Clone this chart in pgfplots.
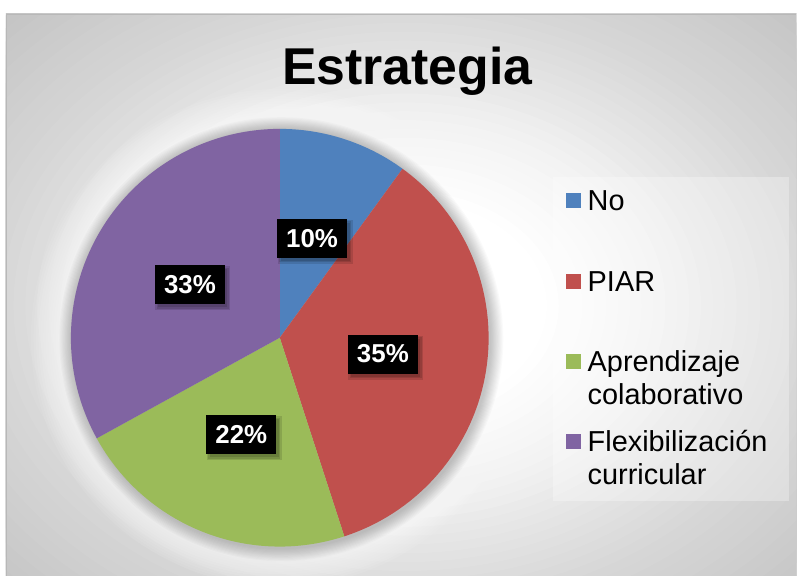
\documentclass[border=0pt]{standalone}
\usepackage{pgfplots}
\pgfplotsset{compat=1.18}
\usepackage{pgfplotstable}
\usepackage{fontspec}
\setmainfont{Liberation Sans}
\definecolor{cNo}{HTML}{4F81BD}
\definecolor{cPIAR}{HTML}{C0504D}
\definecolor{cApr}{HTML}{9BBB59}
\definecolor{cFlex}{HTML}{8064A2}
\definecolor{frame}{rgb}{0.72,0.72,0.72}
\pgfplotstableread{
label value
No 10
PIAR 35
Aprendizaje 22
Flexibilizacion 33
}\piedata
\begin{document}
\begin{tikzpicture}
\pgfplotstablegetelem{0}{value}\of\piedata \let\vA\pgfplotsretval
\pgfplotstablegetelem{1}{value}\of\piedata \let\vB\pgfplotsretval
\pgfplotstablegetelem{2}{value}\of\piedata \let\vC\pgfplotsretval
\pgfplotstablegetelem{3}{value}\of\piedata \let\vD\pgfplotsretval
\def\cx{280}\def\cy{238}\def\R{209}\def\lr{104.5}
\pgfmathsetmacro\aA{90}
\pgfmathsetmacro\aB{\aA-3.6*\vA}
\pgfmathsetmacro\aC{\aB-3.6*\vB}
\pgfmathsetmacro\aD{\aC-3.6*\vC}
\pgfmathsetmacro\aE{\aD-3.6*\vD}
\pgfmathsetmacro\xA{\cx+\lr*cos((\aA+\aB)/2)}\pgfmathsetmacro\yA{\cy+\lr*sin((\aA+\aB)/2)}
\pgfmathsetmacro\xB{\cx+\lr*cos((\aB+\aC)/2)}\pgfmathsetmacro\yB{\cy+\lr*sin((\aB+\aC)/2)}
\pgfmathsetmacro\xC{\cx+\lr*cos((\aC+\aD)/2)}\pgfmathsetmacro\yC{\cy+\lr*sin((\aC+\aD)/2)}
\pgfmathsetmacro\xD{\cx+\lr*cos((\aD+\aE)/2)}\pgfmathsetmacro\yD{\cy+\lr*sin((\aD+\aE)/2)}
% background: radial gradient built from nested solid ellipses
\fill[white] (0bp,0bp) rectangle (797bp,576bp);
\begin{scope}
\clip (6bp,0bp) rectangle (797bp,562bp);
\begin{scope}[shift={(405bp,270bp)}, xscale=7.91, yscale=5.9]
\foreach \i in {0,...,46}{
  \pgfmathsetmacro\rr{72-1.5*\i}
  \pgfmathsetmacro\pct{100*(0.05*max(min(\rr,32)-18,0)/14 + 0.10*max(min(\rr,50)-32,0)/18 + 0.08*max(\rr-50,0)/21)}
  \fill[black!\pct!white] (0,0) circle[radius=\rr bp];
}
\end{scope}
\end{scope}
\draw[frame, line width=1.3bp] (6.6bp,0bp) -- (6.6bp,561.4bp) -- (797bp,561.4bp);
\begin{axis}[
  at={(0bp,0bp)}, anchor=south west,
  x=1bp, y=1bp, xmin=0, xmax=797, ymin=0, ymax=576,
  hide axis, clip=false,
]
% white glow round the pie
\pgfplotsinvokeforeach{1,...,16}{
  \fill[white, opacity=0.08] (axis cs:\cx,\cy) circle[radius=209bp+#1*2.5bp];
}
% soft grey shadow right at the pie's rim
\pgfplotsinvokeforeach{1,...,12}{
  \fill[black, opacity=0.018] ([xshift=1.5bp,yshift=-1.5bp]axis cs:\cx,\cy) circle[radius=209bp+#1*1.1bp];
}
% title
\node[anchor=base, font=\bfseries\fontsize{52}{60}\selectfont] at (axis cs:407.5,491) {Estrategia};
% pie slices
\fill[cNo]   (axis cs:\cx,\cy) -- ++(\aA:\R bp) arc[start angle=\aA, end angle=\aB, radius=\R bp] -- cycle;
\fill[cPIAR] (axis cs:\cx,\cy) -- ++(\aB:\R bp) arc[start angle=\aB, end angle=\aC, radius=\R bp] -- cycle;
\fill[cApr]  (axis cs:\cx,\cy) -- ++(\aC:\R bp) arc[start angle=\aC, end angle=\aD, radius=\R bp] -- cycle;
\fill[cFlex] (axis cs:\cx,\cy) -- ++(\aD:\R bp) arc[start angle=\aD, end angle=\aE, radius=\R bp] -- cycle;
% labels with soft shadow
\tikzset{plabel/.style={fill=black, text=white, font=\bfseries\fontsize{26}{28}\selectfont,
  minimum width=70bp, minimum height=39bp, inner sep=0pt},
  pshadow/.style={fill=black, opacity=0.12, minimum width=#1, minimum height=#1-31bp, inner sep=0pt}}
\pgfplotsinvokeforeach{A,B,C,D}{
  \node[pshadow=75bp] at ([xshift=3bp,yshift=-3.5bp]axis cs:\csname x#1\endcsname,\csname y#1\endcsname) {};
  \node[pshadow=72bp] at ([xshift=3bp,yshift=-3.5bp]axis cs:\csname x#1\endcsname,\csname y#1\endcsname) {};
  \node[pshadow=69bp] at ([xshift=3bp,yshift=-3.5bp]axis cs:\csname x#1\endcsname,\csname y#1\endcsname) {};
}
\node[plabel] at (axis cs:\xA,\yA) {\vA\%};
\node[plabel] at (axis cs:\xB,\yB) {\vB\%};
\node[plabel] at (axis cs:\xC,\yC) {\vC\%};
\node[plabel] at (axis cs:\xD,\yD) {\vD\%};
% legend
\fill[white, opacity=0.3] (axis cs:553,75) rectangle (axis cs:790,399);
\tikzset{ltext/.style={anchor=base west, inner sep=0pt, font=\fontsize{29}{33}\selectfont}}
\fill[cNo]   (axis cs:566,368) rectangle (axis cs:581,383);
\node[ltext] at (axis cs:588,365) {No};
\fill[cPIAR] (axis cs:566,287) rectangle (axis cs:581,302);
\node[ltext] at (axis cs:588,284) {PIAR};
\fill[cApr]  (axis cs:566,207) rectangle (axis cs:581,222);
\node[ltext] at (axis cs:588,204) {\vtop{\hbox{Aprendizaje}\hbox{colaborativo}}};
\fill[cFlex] (axis cs:566,127) rectangle (axis cs:581,142);
\node[ltext] at (axis cs:588,124) {\vtop{\hbox{Flexibilización}\hbox{curricular}}};
\end{axis}
\end{tikzpicture}
\end{document}
